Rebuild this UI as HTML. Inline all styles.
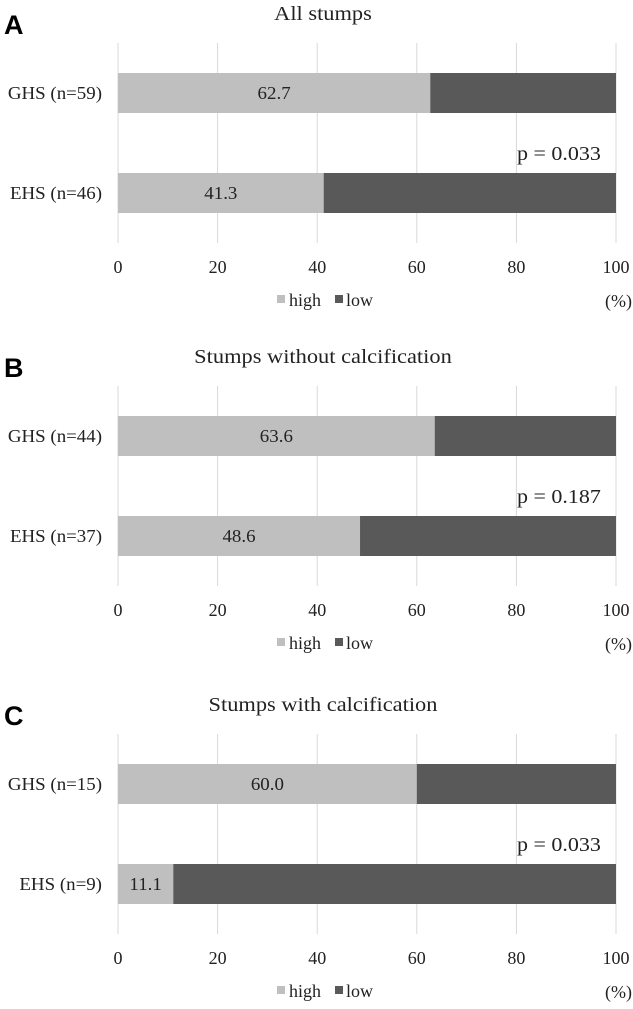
<!DOCTYPE html>
<html><head><meta charset="utf-8"><style>
html,body{margin:0;padding:0;background:#fff;}
svg text{font-family:"Liberation Serif",serif;fill:#222;}
</style></head><body>
<svg id="chart" width="633" height="1004" viewBox="0 0 633 1004" xmlns="http://www.w3.org/2000/svg"></svg>
<script>
const panelLetters = ["A", "B", "C"];
const panelTitles = ["All stumps", "Stumps without calcification", "Stumps with calcification"];
const categoryLabels = [["GHS (n=59)", "EHS (n=46)"], ["GHS (n=44)", "EHS (n=37)"], ["GHS (n=15)", "EHS (n=9)"]];
const highValues = [[62.7, 41.3], [63.6, 48.6], [60.0, 11.1]];
const pValues = ["p = 0.033", "p = 0.187", "p = 0.033"];
const tickValues = [0, 20, 40, 60, 80, 100];

const svg = document.getElementById('chart');
const NS = "http://www.w3.org/2000/svg";
const offsets = [0, 343, 691];
const x0 = 118, x1 = 616;
function xScale(v){ return x0 + (x1 - x0) * v / 100; }
function mk(tag, attrs, text){
  const e = document.createElementNS(NS, tag);
  for (const k in attrs) e.setAttribute(k, attrs[k]);
  if (text !== undefined) e.textContent = text;
  svg.appendChild(e);
  return e;
}
function stretch(e, f){
  const w = e.getComputedTextLength();
  e.setAttribute('textLength', (w * f).toFixed(1));
  e.setAttribute('lengthAdjust', 'spacingAndGlyphs');
}
const barTops = [73, 173];
panelLetters.forEach((L, p) => {
  const o = offsets[p];
  let e = mk('text', {x: 4, y: o + 34, 'font-size': 27, 'font-weight': 'bold', style: 'font-family:"Liberation Sans",sans-serif;fill:#000'}, L);
  
  
  e = mk('text', {x: 323, y: o + 20, 'font-size': 20, 'text-anchor': 'middle'}, panelTitles[p]);
  
  
  stretch(e, 1.12);
  tickValues.forEach(t => {
    let g = mk('line', {x1: xScale(t), x2: xScale(t), y1: o + 43, y2: o + 243, stroke: '#d9d9d9', 'stroke-width': 1});
    
    
    let tl = mk('text', {x: xScale(t), y: o + 273, 'font-size': 18, 'text-anchor': 'middle'}, String(t));
    
    
  });
  highValues[p].forEach((v, i) => {
    const y = o + barTops[i];
    let b = mk('rect', {x: xScale(0), y: y, width: xScale(v) - xScale(0), height: 40, fill: '#bfbfbf'});
    
    
    b = mk('rect', {x: xScale(v), y: y, width: xScale(100) - xScale(v), height: 40, fill: '#595959'});
    
    
    let vl = mk('text', {x: (xScale(0) + xScale(v)) / 2, y: y + 26, 'font-size': 18, 'text-anchor': 'middle'}, v.toFixed(1));
    
    
    stretch(vl, 1.05);
    let cl = mk('text', {x: 102, y: y + 26, 'font-size': 18, 'text-anchor': 'end'}, categoryLabels[p][i]);
    
    
    stretch(cl, 1.05);
  });
  e = mk('text', {x: 517, y: o + 160, 'font-size': 20}, pValues[p]);
  
  
  stretch(e, 1.1);
  e = mk('rect', {x: 277, y: o + 295, width: 8, height: 8, fill: '#bfbfbf'});
  
  
  e = mk('text', {x: 289, y: o + 306, 'font-size': 18}, 'high');
  
  
  e = mk('rect', {x: 335, y: o + 295, width: 8, height: 8, fill: '#595959'});
  
  
  e = mk('text', {x: 346, y: o + 306, 'font-size': 18}, 'low');
  
  
  e = mk('text', {x: 632, y: o + 307, 'font-size': 18, 'text-anchor': 'end'}, '(%)');
  
  
});
</script>
</body></html>
